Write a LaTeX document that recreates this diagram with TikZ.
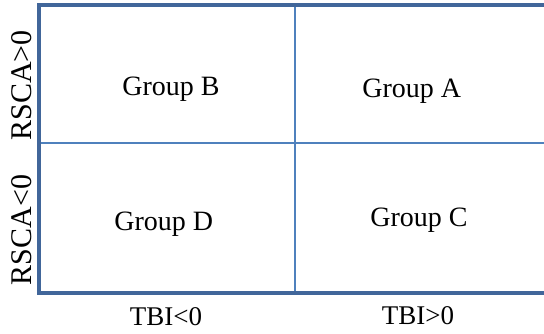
\documentclass[tikz,border=0pt]{standalone}
\usepackage{fontspec}
\setmainfont{Liberation Serif}
\definecolor{axisblue}{HTML}{41669A}
\definecolor{gridblue}{HTML}{4F81BD}
\tikzset{
  axisline/.style={draw=axisblue, line width=4pt},
  gridline/.style={draw=gridblue, line width=2pt},
  grouplabel/.style={anchor=base, inner sep=0pt, font=\fontsize{28}{34}\selectfont},
  xlabel/.style={anchor=base, inner sep=0pt, font=\fontsize{27}{32}\selectfont},
  ylabel/.style={anchor=base, inner sep=0pt, rotate=90, font=\fontsize{30}{36}\selectfont},
}
\begin{document}
\begin{tikzpicture}[x=1pt, y=-1pt]
\useasboundingbox (0,0) rectangle (544,333);
% corners and grid coordinates
\coordinate (tl) at (38.7,5.3);
\coordinate (tr) at (546,5.3);
\coordinate (bl) at (38.7,292.7);
\coordinate (br) at (546,292.7);
\coordinate (vt) at (294.7,5.3);
\coordinate (vb) at (294.7,292.7);
\coordinate (hl) at (38.7,142.6);
\coordinate (hr) at (546,142.6);
% grid lines
\draw[gridline] (vt) -- (vb);
\draw[gridline] (hl) -- (hr);
% outer frame (open on the right)
\draw[axisline, line cap=rect] (tr) -- (tl) -- (bl) -- (br);
% group labels
\node[grouplabel] (gb) at (171,95.7) {Group B};
\node[grouplabel] (ga) at (411.7,97.3) {Group A};
\node[grouplabel] (gd) at (163.7,230) {Group D};
\node[grouplabel] (gc) at (419,226) {Group C};
% axis labels
\node[xlabel] (tneg) at (166,325.3) {TBI<0};
\node[xlabel] (tpos) at (418,324) {TBI>0};
\node[ylabel] (rpos) at (31.5,85.5) {RSCA>0};
\node[ylabel] (rneg) at (31.5,230) {RSCA<0};
\end{tikzpicture}
\end{document}
